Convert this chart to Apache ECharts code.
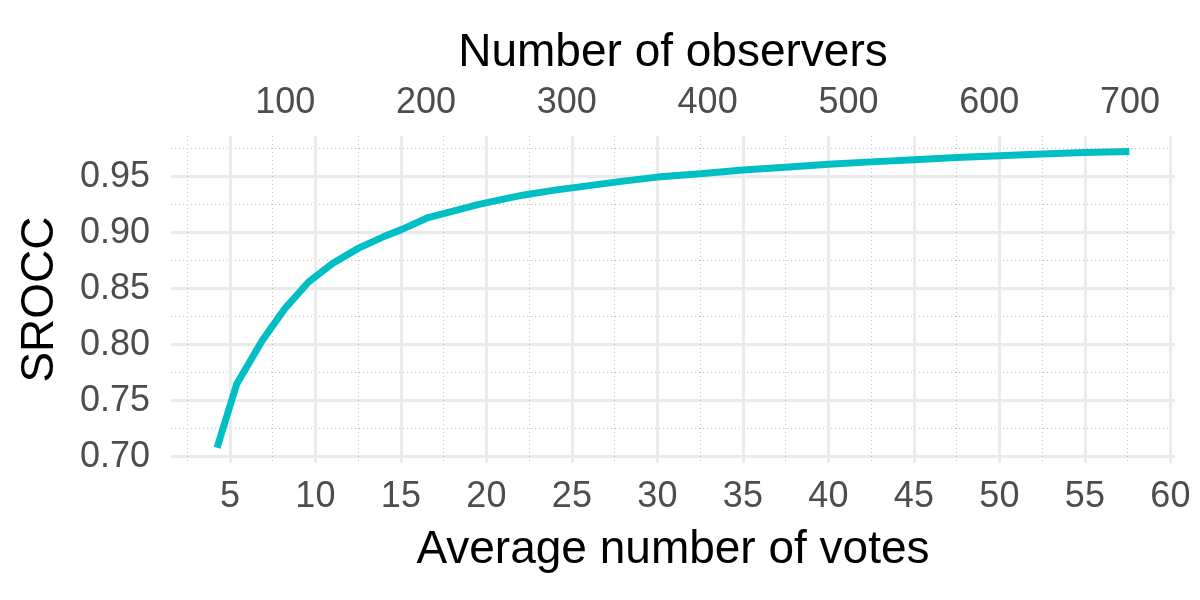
<!DOCTYPE html>
<html>
<head>
<meta charset="utf-8">
<title>SROCC vs votes</title>
<script src="https://cdn.jsdelivr.net/npm/echarts@6/dist/echarts.min.js"></script>
<style>
  html, body { margin: 0; padding: 0; background: #fff; }
  #main { width: 1200px; height: 600px; }
</style>
</head>
<body>
<div id="main"></div>
<script>
// average number of votes per image (bottom axis)
var votes = [4.25, 5.4, 6.9, 8.2, 9.6, 11.0, 12.5, 14.0, 15.0, 16.6, 18.0, 19.5, 21.0, 22.2,
             24.0, 26.0, 28.0, 30.0, 32.5, 35.0, 37.5, 40.0, 42.5, 45.0, 47.5, 50.0, 52.5, 55.0, 57.6];
// SROCC
var srocc = [0.708, 0.765, 0.804, 0.832, 0.856, 0.8725, 0.886, 0.8965, 0.9025, 0.9135, 0.919, 0.925, 0.930, 0.9337,
             0.938, 0.942, 0.946, 0.9496, 0.9525, 0.956, 0.9585, 0.961, 0.9632, 0.9652, 0.967, 0.9687, 0.9703, 0.9715, 0.9725];

// tick labels
var voteTicks = [5, 10, 15, 20, 25, 30, 35, 40, 45, 50, 55, 60];
var voteMinor = [2.5, 7.5, 12.5, 17.5, 22.5, 27.5, 32.5, 37.5, 42.5, 47.5, 52.5, 57.5];
var observerTicks = [100, 200, 300, 400, 500, 600, 700];
var sroccTicks = [0.70, 0.75, 0.80, 0.85, 0.90, 0.95];
var sroccMinor = [0.725, 0.775, 0.825, 0.875, 0.925, 0.975];

// observers per vote (secondary axis factor)
var obsPerVote = 12.144;

var xMin = 1.556, xMax = 60.27;
var yMin = 0.6944, yMax = 0.9863;

var myChart = echarts.init(document.getElementById('main'));

var labelText = { color: '#4D4D4D', fontSize: 36, lineHeight: 36, fontFamily: 'Liberation Sans, Arial, sans-serif' };
var titleText = { color: '#000', fontSize: 46, lineHeight: 46, fontFamily: 'Liberation Sans, Arial, sans-serif' };
var majorLine = { show: true, lineStyle: { color: '#EBEBEB', width: 3, type: 'solid' } };
var minorLine = { show: true, lineStyle: { color: '#BEBEBE', width: 1, type: [1, 3] } };

var data = votes.map(function (v, i) { return [v, srocc[i]]; });

var option = {
    animation: false,
    backgroundColor: '#fff',
    grid: { left: 171, right: 25, top: 136, bottom: 137, outerBoundsMode: 'none', containLabel: false },
    xAxis: [
        {
            // bottom: average number of votes
            type: 'value', position: 'bottom', min: xMin, max: xMax,
            name: 'Average number of votes', nameLocation: 'middle', nameGap: 64,
            nameTextStyle: titleText,
            axisLine: { show: false },
            axisTick: { show: false, customValues: voteTicks },
            axisLabel: Object.assign({ margin: 16, customValues: voteTicks, showMinLabel: true, showMaxLabel: true }, labelText),
            splitLine: majorLine
        },
        {
            // top: number of observers
            type: 'value', position: 'top', min: xMin * obsPerVote, max: xMax * obsPerVote,
            name: 'Number of observers', nameLocation: 'middle', nameGap: 60,
            nameTextStyle: titleText,
            axisLine: { show: false },
            axisTick: { show: false, customValues: observerTicks },
            axisLabel: Object.assign({ margin: 15, customValues: observerTicks }, labelText),
            splitLine: { show: false }
        },
        {
            // minor grid only
            type: 'value', position: 'bottom', min: xMin, max: xMax,
            axisLine: { show: false },
            axisTick: { show: false, customValues: voteMinor },
            axisLabel: { show: false, customValues: voteMinor },
            splitLine: minorLine
        }
    ],
    yAxis: [
        {
            type: 'value', min: yMin, max: yMax,
            name: 'SROCC', nameLocation: 'middle', nameGap: 108, nameRotate: 90,
            nameTextStyle: titleText,
            axisLine: { show: false },
            axisTick: { show: false, customValues: sroccTicks },
            axisLabel: Object.assign({
                margin: 21, customValues: sroccTicks,
                formatter: function (v) { return v.toFixed(2); }
            }, labelText),
            splitLine: majorLine
        },
        {
            type: 'value', position: 'left', min: yMin, max: yMax,
            axisLine: { show: false },
            axisTick: { show: false, customValues: sroccMinor },
            axisLabel: { show: false, customValues: sroccMinor },
            splitLine: minorLine
        }
    ],
    series: [{
        type: 'line',
        xAxisIndex: 0,
        yAxisIndex: 0,
        data: data,
        symbol: 'none',
        z: 5,
        lineStyle: { color: '#00BFC4', width: 7, cap: 'butt', join: 'round' }
    }]
};

myChart.setOption(option);
</script>
</body>
</html>
